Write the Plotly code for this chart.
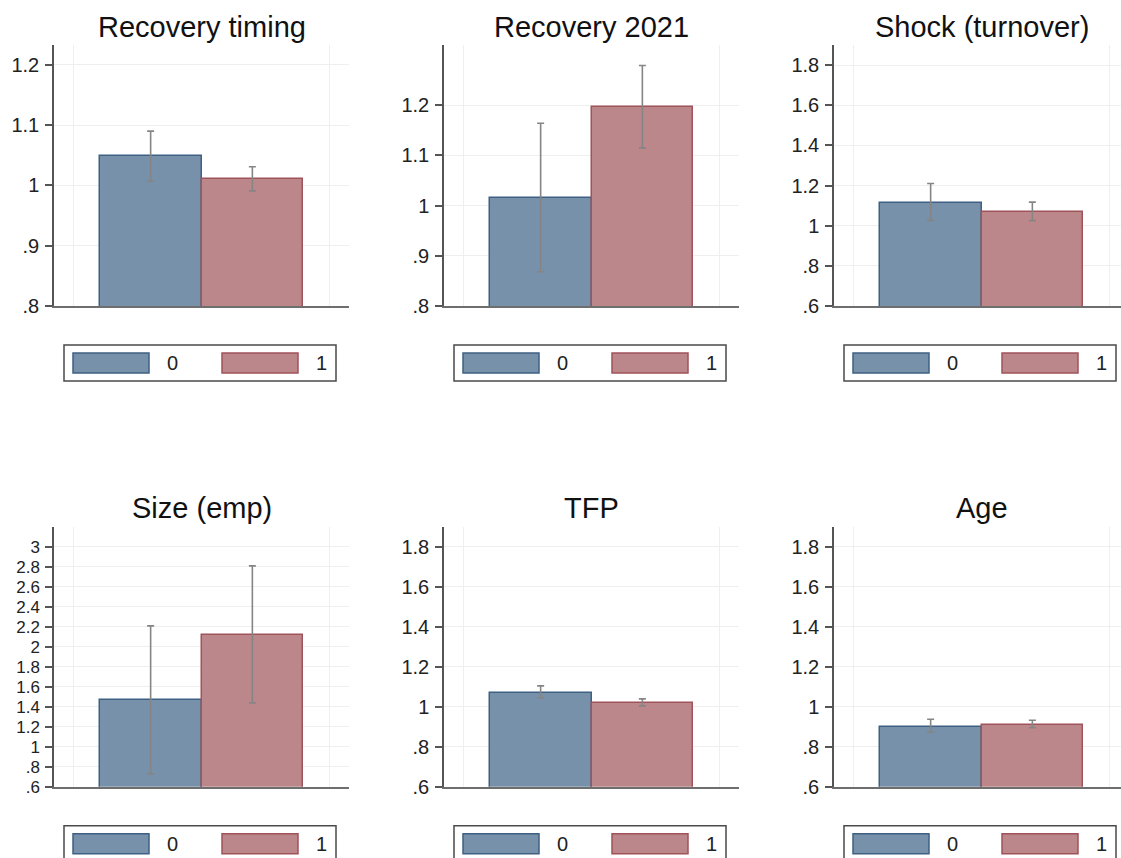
import plotly.graph_objects as go

W, H = 1121, 858

# ---- data ----
panels = ["Recovery timing", "Recovery 2021", "Shock (turnover)", "Size (emp)", "TFP", "Age"]
groups = ["0", "1"]
mean_g0 = [1.048, 1.016, 1.115, 1.47, 1.072, 0.902]
lo_g0 = [1.007, 0.868, 1.025, 0.73, 1.045, 0.873]
hi_g0 = [1.090, 1.164, 1.210, 2.21, 1.105, 0.938]
mean_g1 = [1.010, 1.196, 1.067, 2.12, 1.022, 0.910]
lo_g1 = [0.991, 1.115, 1.025, 1.44, 1.005, 0.896]
hi_g1 = [1.031, 1.279, 1.117, 2.81, 1.040, 0.933]
y_ranges = [(0.8, 1.233), (0.8, 1.32), (0.6, 1.9), (0.6, 3.2), (0.6, 1.9), (0.6, 1.9)]
y_ticks = [
    [0.8, 0.9, 1.0, 1.1, 1.2],
    [0.8, 0.9, 1.0, 1.1, 1.2],
    [0.6, 0.8, 1.0, 1.2, 1.4, 1.6, 1.8],
    [0.6, 0.8, 1.0, 1.2, 1.4, 1.6, 1.8, 2.0, 2.2, 2.4, 2.6, 2.8, 3.0],
    [0.6, 0.8, 1.0, 1.2, 1.4, 1.6, 1.8],
    [0.6, 0.8, 1.0, 1.2, 1.4, 1.6, 1.8],
]


def fmt(v):
    s = f"{v:g}"
    if s.startswith("0."):
        s = s[1:]
    return s


# ---- styling / layout geometry ----
FILL = ["#7691A9", "#BC878A"]
LINE = ["#3E6083", "#A0535B"]
ERR = "#858585"
GRID = "#EFEFEF"
AXIS = "#555555"
FONT = "Liberation Sans, Arial, sans-serif"

SY = 1.0128                    # vertical compensation
col_left = [54, 444, 834]      # pixel x of y axis
plot_w = 295
row_top = [45, 527]            # pixel y of plot top
row_base = [306, 787]          # pixel y of baseline
xr = (-0.95, 1.95)


def py(y):
    return 1 - y * SY / H


fig = go.Figure()
layout = dict(
    width=W, height=H, margin=dict(l=0, r=0, t=0, b=0),
    paper_bgcolor="white", plot_bgcolor="white", showlegend=False,
    bargap=0, font=dict(family=FONT, size=20, color="#222222"),
)
shapes = []
annotations = []

for i, name in enumerate(panels):
    r, c = divmod(i, 3)
    k = "" if i == 0 else str(i + 1)
    left = col_left[c]
    right = left + plot_w
    x_end = xr[1]
    dom_right = right
    if right > W:
        x_end = xr[0] + (W - left) * (xr[1] - xr[0]) / plot_w
        dom_right = W
    xdom = [left / W, dom_right / W]
    ydom = [py(row_base[r]), py(row_top[r])]

    means = [mean_g0[i], mean_g1[i]]
    fig.add_trace(go.Bar(
        x=[0, 1], y=means, width=[1, 1],
        marker=dict(color=FILL, line=dict(color=LINE, width=1.5)),
        error_y=dict(type="data", symmetric=False,
                     array=[hi_g0[i] - mean_g0[i], hi_g1[i] - mean_g1[i]],
                     arrayminus=[mean_g0[i] - lo_g0[i], mean_g1[i] - lo_g1[i]],
                     color=ERR, thickness=1.6, width=3.5),
        xaxis="x" + k, yaxis="y" + k, hoverinfo="skip",
    ))

    tick_size = 17 if len(y_ticks[i]) > 8 else 20
    layout["xaxis" + k] = dict(
        domain=xdom, range=[xr[0], x_end], anchor="y" + k,
        tickvals=[-0.76, 1.76], showticklabels=False, ticks="",
        showgrid=True, gridcolor=GRID, gridwidth=1, zeroline=False,
        showline=True, linecolor="#6E6E6E", linewidth=2, fixedrange=True,
    )
    layout["yaxis" + k] = dict(
        domain=ydom, range=list(y_ranges[i]), anchor="x" + k,
        tickvals=y_ticks[i], ticktext=[fmt(v) for v in y_ticks[i]],
        ticks="outside", ticklen=7, tickwidth=1.5, tickcolor=AXIS,
        ticklabelstandoff=2,
        showgrid=True, gridcolor=GRID, gridwidth=1, zeroline=False,
        showline=True, linecolor=AXIS, linewidth=1.5,
        tickfont=dict(family=FONT, size=tick_size, color="#222222"), fixedrange=True,
    )

    # panel title
    cx = left + plot_w / 2
    ty = 27 if r == 0 else 508
    annotations.append(dict(
        text=name, x=cx / W, y=py(ty), xref="paper", yref="paper",
        xanchor="center", yanchor="middle", showarrow=False,
        font=dict(family=FONT, size=29, color="#111111"),
    ))

    # legend box (drawn below each panel)
    lb_top = row_base[r] + 39
    lb_bot = lb_top + 36
    bx0 = left + 10
    bx1 = left + 282
    shapes.append(dict(type="rect", xref="paper", yref="paper",
                       x0=bx0 / W, x1=bx1 / W, y0=py(lb_bot), y1=py(lb_top),
                       line=dict(color="#4A4A4A", width=1.5), fillcolor="white", layer="above"))
    bc = left + 146
    sw_y0 = lb_top + 8
    sw_y1 = lb_top + 28
    for g, (sx0, tx) in enumerate([(-127, -28), (22, 121)]):
        shapes.append(dict(type="rect", xref="paper", yref="paper",
                           x0=(bc + sx0) / W, x1=(bc + sx0 + 76) / W,
                           y0=py(sw_y1), y1=py(sw_y0),
                           line=dict(color=LINE[g], width=1.5), fillcolor=FILL[g], layer="above"))
        annotations.append(dict(
            text=groups[g], x=(bc + tx) / W, y=py(sw_y0 + 10),
            xref="paper", yref="paper", xanchor="center", yanchor="middle",
            showarrow=False, font=dict(family=FONT, size=20, color="#222222"),
        ))

layout["shapes"] = shapes
layout["annotations"] = annotations
fig.update_layout(**layout)
fig.write_html("out.html")
